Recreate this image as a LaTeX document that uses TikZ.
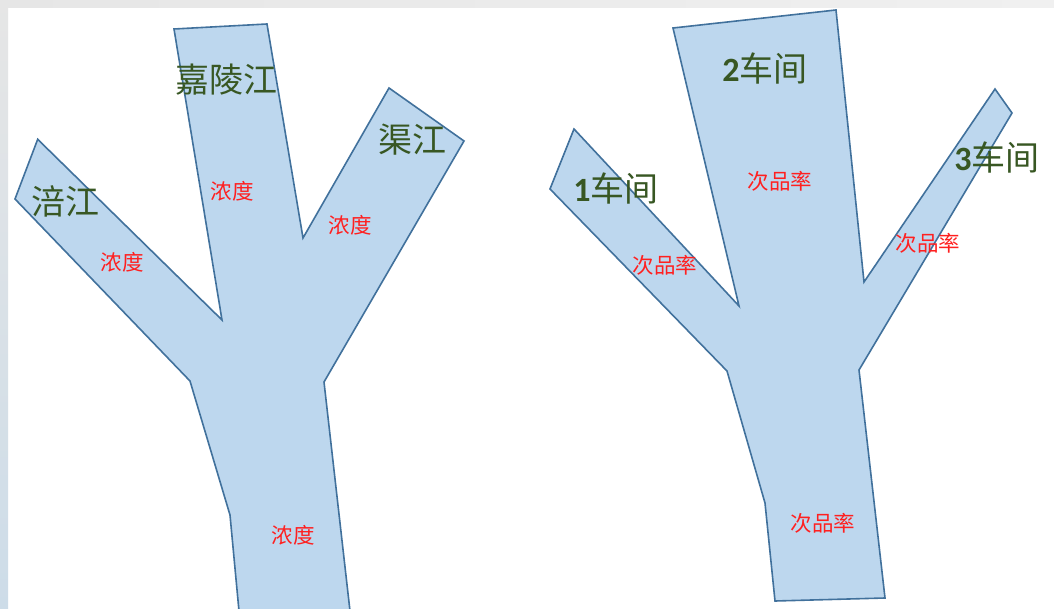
\documentclass[tikz,border=0pt]{standalone}
\usepackage{fontspec}
\newfontfamily\cjk{Noto Sans CJK SC}
\newfontfamily\digitfont{Carlito}
\definecolor{riverfill}{HTML}{BDD7EE}
\definecolor{riverline}{HTML}{41719C}
\definecolor{labgreen}{HTML}{385723}
\definecolor{labred}{HTML}{FF2020}
\definecolor{barcol}{HTML}{E6E6E6}
\tikzset{
  river/.style={fill=riverfill, draw=riverline, line width=1.6pt, line join=miter},
  bigname/.style={font=\cjk\fontsize{34}{36}\selectfont, text=labgreen, inner sep=0pt},
  shopname/.style={font=\cjk\fontsize{34}{36}\selectfont, text=labgreen, inner sep=0pt},
  redlab/.style={font=\cjk\fontsize{21.5}{23}\selectfont, text=labred, inner sep=0pt}
}
\begin{document}
\begin{tikzpicture}[x=1pt,y=-1pt]
\useasboundingbox (0,0) rectangle (1054,609);
\fill[white] (0,0) rectangle (1054,609);
% top bar and left strip
\shade[left color=barcol, right color=barcol!60] (0,0) rectangle (1054,8);
\shade[top color=barcol, bottom color={rgb,255:red,205;green,220;blue,232}] (0,0) rectangle (8,609);

% left river
\draw[river] (37.7,139.3) -- (222,320) -- (174,29) -- (267,24) -- (303,238)
  -- (389,88) -- (464,141) -- (324,382) -- (350,611) -- (239,611)
  -- (230,515) -- (190,381) -- (15,199) -- cycle;

% right shape
\draw[river] (574,129) -- (739,306) -- (673,28) -- (836,10) -- (864,282)
  -- (995,89) -- (1012,113) -- (859,370) -- (885,598) -- (775,601)
  -- (765,503) -- (727,371) -- (550,189) -- cycle;

% left labels
\node[bigname] (jl) at (226,80) {嘉陵江};
\node[bigname] (qj) at (412,140) {渠江};
\node[bigname] (fj) at (65,201) {涪江};
\node[redlab] (c1) at (122,262) {浓度};
\node[redlab] (c2) at (232,191) {浓度};
\node[redlab] (c3) at (350,225) {浓度};
\node[redlab] (c4) at (293,535) {浓度};

% right labels
\node[shopname] (w2) at (765,68) {{\digitfont\bfseries 2}车间};
\node[shopname] (w1) at (616,188) {{\digitfont\bfseries 1}车间};
\node[shopname] (w3) at (997,157) {{\digitfont\bfseries 3}车间};
\node[redlab] (r2) at (780,181) {次品率};
\node[redlab] (r1) at (665,265) {次品率};
\node[redlab] (r3) at (928,243) {次品率};
\node[redlab] (r4) at (823,523) {次品率};
\end{tikzpicture}
\end{document}
